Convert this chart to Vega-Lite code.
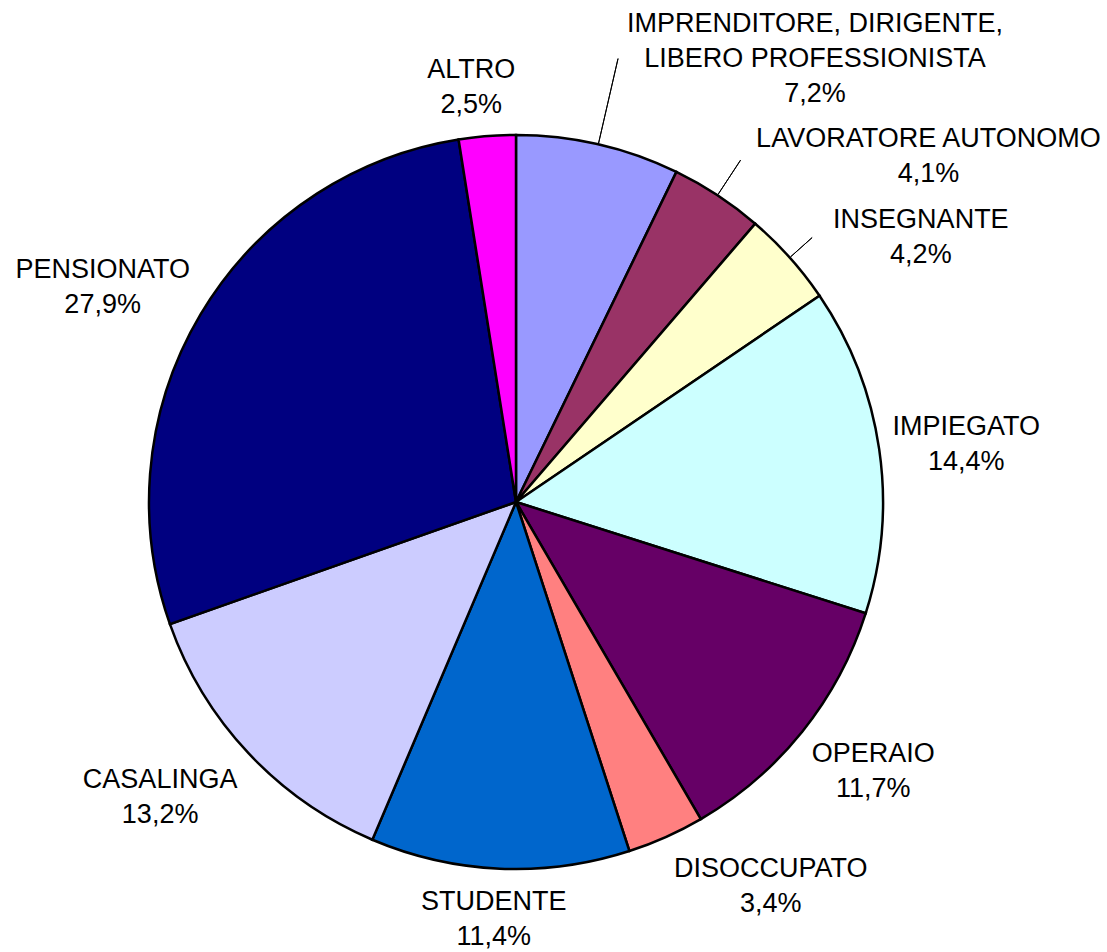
{
  "$schema": "https://vega.github.io/schema/vega-lite/v6.json",
  "autosize": "none",
  "width": 1032,
  "height": 898,
  "padding": {"left": 0, "top": 53, "right": 75, "bottom": 1},
  "background": "white",
  "view": {"stroke": null},
  "config": {"text": {"font": "Liberation Sans", "fontSize": 27, "lineBreak": "\n", "lineHeight": 35, "align": "center", "baseline": "middle"}},
  "data": {"values": [
    {"i": 1, "cat": "IMPRENDITORE, DIRIGENTE, LIBERO PROFESSIONISTA", "v": 7.2, "label": "IMPRENDITORE, DIRIGENTE,\nLIBERO PROFESSIONISTA\n7,2%"},
    {"i": 2, "cat": "LAVORATORE AUTONOMO", "v": 4.1, "label": "LAVORATORE AUTONOMO\n4,1%"},
    {"i": 3, "cat": "INSEGNANTE", "v": 4.2, "label": "INSEGNANTE\n4,2%"},
    {"i": 4, "cat": "IMPIEGATO", "v": 14.4, "label": "IMPIEGATO\n14,4%"},
    {"i": 5, "cat": "OPERAIO", "v": 11.7, "label": "OPERAIO\n11,7%"},
    {"i": 6, "cat": "DISOCCUPATO", "v": 3.4, "label": "DISOCCUPATO\n3,4%"},
    {"i": 7, "cat": "STUDENTE", "v": 11.4, "label": "STUDENTE\n11,4%"},
    {"i": 8, "cat": "CASALINGA", "v": 13.2, "label": "CASALINGA\n13,2%"},
    {"i": 9, "cat": "PENSIONATO", "v": 27.9, "label": "PENSIONATO\n27,9%"},
    {"i": 10, "cat": "ALTRO", "v": 2.5, "label": "ALTRO\n2,5%"}
  ]},
  "encoding": {
    "theta": {"field": "v", "type": "quantitative", "stack": true},
    "order": {"field": "i", "type": "quantitative", "sort": "ascending"},
    "detail": {"field": "cat", "type": "nominal"},
    "color": {
      "field": "cat", "type": "nominal", "legend": null,
      "scale": {
        "domain": ["IMPRENDITORE, DIRIGENTE, LIBERO PROFESSIONISTA", "LAVORATORE AUTONOMO", "INSEGNANTE", "IMPIEGATO", "OPERAIO", "DISOCCUPATO", "STUDENTE", "CASALINGA", "PENSIONATO", "ALTRO"],
        "range": ["#9999FF", "#993366", "#FFFFCC", "#CCFFFF", "#660066", "#FF8080", "#0066CC", "#CCCCFF", "#000080", "#FF00FF"]
      }
    }
  },
  "layer": [
    {"mark": {"type": "arc", "radius": 367, "stroke": "black", "strokeWidth": 2.5}},
    {
      "mark": {"type": "arc", "padAngle": 3, "stroke": "black", "strokeWidth": 1, "fillOpacity": 0, "innerRadius": 368, "radius": 455},
      "encoding": {"color": {"value": "black"}, "strokeOpacity": {"condition": {"test": "datum.i === 1", "value": 1}, "value": 0}}
    },
    {
      "mark": {"type": "arc", "padAngle": 3, "stroke": "black", "strokeWidth": 1, "fillOpacity": 0, "innerRadius": 368, "radius": 409},
      "encoding": {"color": {"value": "black"}, "strokeOpacity": {"condition": {"test": "datum.i === 2", "value": 1}, "value": 0}}
    },
    {
      "mark": {"type": "arc", "padAngle": 3, "stroke": "black", "strokeWidth": 1, "fillOpacity": 0, "innerRadius": 368, "radius": 397},
      "encoding": {"color": {"value": "black"}, "strokeOpacity": {"condition": {"test": "datum.i === 3", "value": 1}, "value": 0}}
    },
    {
      "mark": {"type": "text", "radius": 459, "dx": 196, "dy": -31},
      "encoding": {"color": {"value": "black"}, "text": {"condition": {"test": "datum.i === 1", "field": "label", "type": "nominal"}, "value": ""}}
    },
    {
      "mark": {"type": "text", "radius": 416, "dx": 184, "dy": -15},
      "encoding": {"color": {"value": "black"}, "text": {"condition": {"test": "datum.i === 2", "field": "label", "type": "nominal"}, "value": ""}}
    },
    {
      "mark": {"type": "text", "radius": 402, "dx": 105, "dy": -14},
      "encoding": {"color": {"value": "black"}, "text": {"condition": {"test": "datum.i === 3", "field": "label", "type": "nominal"}, "value": ""}}
    },
    {
      "mark": {"type": "text", "radius": 455, "dx": 0, "dy": -9},
      "encoding": {"color": {"value": "black"}, "text": {"condition": {"test": "datum.i === 4", "field": "label", "type": "nominal"}, "value": ""}}
    },
    {
      "mark": {"type": "text", "radius": 450, "dx": 6, "dy": -29},
      "encoding": {"color": {"value": "black"}, "text": {"condition": {"test": "datum.i === 5", "field": "label", "type": "nominal"}, "value": ""}}
    },
    {
      "mark": {"type": "text", "radius": 418, "dx": 84, "dy": -15},
      "encoding": {"color": {"value": "black"}, "text": {"condition": {"test": "datum.i === 6", "field": "label", "type": "nominal"}, "value": ""}}
    },
    {
      "mark": {"type": "text", "radius": 417, "dx": -4, "dy": -17},
      "encoding": {"color": {"value": "black"}, "text": {"condition": {"test": "datum.i === 7", "field": "label", "type": "nominal"}, "value": ""}}
    },
    {
      "mark": {"type": "text", "radius": 458, "dx": -22, "dy": -36},
      "encoding": {"color": {"value": "black"}, "text": {"condition": {"test": "datum.i === 8", "field": "label", "type": "nominal"}, "value": ""}}
    },
    {
      "mark": {"type": "text", "radius": 466, "dx": -13, "dy": 6},
      "encoding": {"color": {"value": "black"}, "text": {"condition": {"test": "datum.i === 9", "field": "label", "type": "nominal"}, "value": ""}}
    },
    {
      "mark": {"type": "text", "radius": 417, "dx": -12, "dy": -16},
      "encoding": {"color": {"value": "black"}, "text": {"condition": {"test": "datum.i === 10", "field": "label", "type": "nominal"}, "value": ""}}
    }
  ]
}
